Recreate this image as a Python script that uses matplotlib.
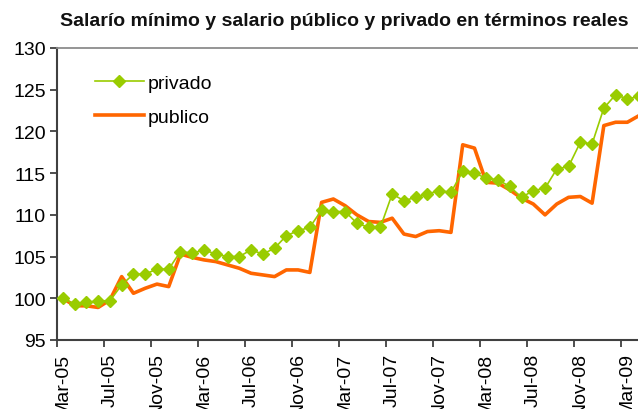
import matplotlib
matplotlib.use("Agg")
import matplotlib.pyplot as plt
import numpy as np

plt.rcParams['font.family'] = ['Liberation Sans', 'DejaVu Sans']

# monthly labels Mar-05 .. Apr-09
month_names = ["Jan", "Feb", "Mar", "Apr", "May", "Jun", "Jul", "Aug", "Sep", "Oct", "Nov", "Dec"]
labels = []
y, m = 2005, 2
for i in range(50):
    labels.append(month_names[m] + "-%02d" % (y % 100))
    m += 1
    if m == 12:
        m = 0
        y += 1

privado = [100.0, 99.3, 99.5, 99.7, 99.7, 101.6, 102.9, 102.9, 103.5, 103.5,
           105.6, 105.4, 105.8, 105.3, 105.0, 105.0, 105.8, 105.3, 106.0, 107.5,
           108.1, 108.5, 110.6, 110.4, 110.4, 109.0, 108.5, 108.5, 112.5, 111.7,
           112.1, 112.5, 112.9, 112.7, 115.2, 115.0, 114.4, 114.2, 113.4, 112.1,
           112.9, 113.2, 115.5, 115.8, 118.7, 118.5, 122.8, 124.4, 123.9, 124.2]

publico = [100.0, 99.1, 99.1, 98.9, 99.8, 102.6, 100.6, 101.2, 101.7, 101.4,
           105.3, 104.9, 104.6, 104.4, 104.0, 103.6, 103.0, 102.8, 102.6, 103.4,
           103.4, 103.1, 111.5, 111.9, 111.1, 110.0, 109.2, 109.1, 109.6, 107.7,
           107.4, 108.0, 108.1, 107.9, 118.4, 118.0, 113.9, 113.8, 113.0, 112.0,
           111.3, 110.0, 111.3, 112.1, 112.2, 111.4, 120.7, 121.1, 121.1, 121.9]

title = "Salarío mínimo y salario público y privado en términos reales"
yticks = [95, 100, 105, 110, 115, 120, 125, 130]

GREEN = "#99CC00"
ORANGE = "#FF6600"

fig = plt.figure(figsize=(6.38, 4.10), dpi=100)
W, H = 638, 410
left, right, top, bottom = 57, 645, 49, 341
ax = fig.add_axes([left / W, 1 - bottom / H, (right - left) / W, (bottom - top) / H])

x = np.arange(len(privado))
ax.plot(x, privado, color=GREEN, lw=1.2, marker="D", ms=6.3, mec=GREEN, mfc=GREEN,
        label="privado", zorder=3)
ax.plot(x, publico, color=ORANGE, lw=2.6, label="publico", zorder=2)

ax.set_xlim(-0.5, len(privado) - 0.5)
ax.set_ylim(95, 130)
ax.set_yticks(yticks)
ax.set_yticklabels([str(v) for v in yticks], fontsize=14)

lab_pos = np.arange(0, len(labels), 4)
ax.set_xticks(lab_pos)
ax.set_xticklabels([labels[i] for i in lab_pos], rotation=90, fontsize=14, va="top")
ax.tick_params(axis="x", which="major", length=0, pad=9)
ax.set_xticks(lab_pos - 0.5, minor=True)
ax.tick_params(axis="x", which="minor", length=5, width=1.3, color="#404040", direction="out")
ax.tick_params(axis="y", length=5, width=1.3, color="#404040", direction="out", pad=3)

for s in ("left", "bottom"):
    ax.spines[s].set_color("#404040")
    ax.spines[s].set_linewidth(1.5)
ax.spines["top"].set_color("#8c8c8c")
ax.spines["top"].set_linewidth(1.3)
ax.spines["right"].set_visible(False)

fig.text(344 / W, 1 - 21 / H, title, ha="center", va="center", fontsize=14,
         fontweight="bold", color="#111111")

leg = ax.legend(loc="upper left", bbox_to_anchor=(95 / W, 1 - 75 / H),
                bbox_transform=fig.transFigure, frameon=False, fontsize=14,
                handlelength=2.5, handletextpad=0.2, labelspacing=0.85,
                borderaxespad=0, borderpad=0)

fig.savefig("out.png", dpi=100)
